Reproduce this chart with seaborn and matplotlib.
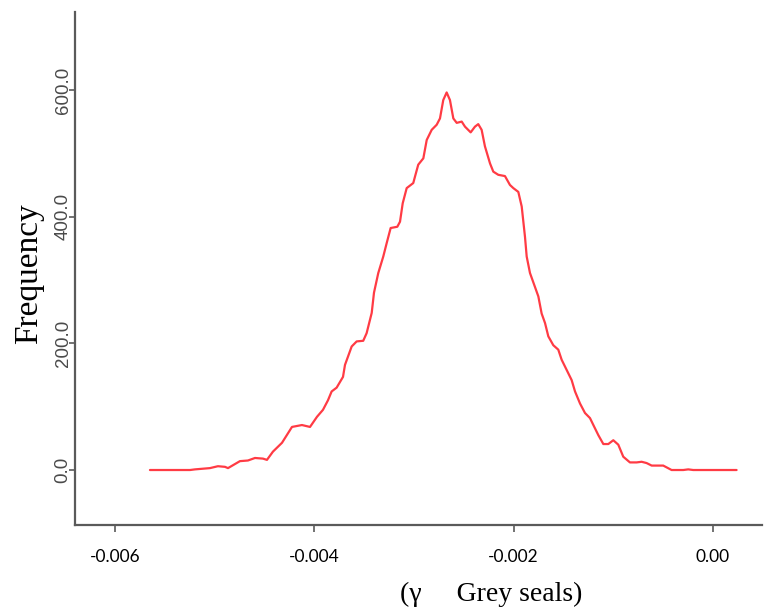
import matplotlib
matplotlib.use("Agg")
import matplotlib.pyplot as plt
import seaborn as sns
import pandas as pd

# Data (gamma for grey seals vs frequency)
gamma = [-0.005649, -0.005247, -0.005197, -0.005047, -0.004967, -0.004896, -0.004866,
         -0.004746, -0.004666, -0.004595, -0.004515, -0.004475, -0.004415, -0.004324,
         -0.004224, -0.004124, -0.004043, -0.003973, -0.003913, -0.003863, -0.003826,
         -0.003776, -0.003712, -0.003692, -0.003625, -0.003575, -0.003509, -0.003475,
         -0.003424, -0.003401, -0.003358, -0.003308, -0.003274, -0.003234, -0.003167,
         -0.003140, -0.003113, -0.003073, -0.003007, -0.002990, -0.002957, -0.002906,
         -0.002872, -0.002822, -0.002772, -0.002739, -0.002706, -0.002672, -0.002639,
         -0.002605, -0.002571, -0.002521, -0.002488, -0.002431, -0.002388, -0.002355,
         -0.002321, -0.002288, -0.002237, -0.002204, -0.002154, -0.002087, -0.002037,
         -0.002003, -0.001953, -0.001919, -0.001886, -0.001869, -0.001836, -0.001786,
         -0.001752, -0.001719, -0.001685, -0.001652, -0.001602, -0.001552, -0.001518,
         -0.001468, -0.001418, -0.001384, -0.001334, -0.001284, -0.001234, -0.001200,
         -0.001150, -0.001100, -0.001050, -0.001000, -0.000950, -0.000900, -0.000833,
         -0.000766, -0.000716, -0.000666, -0.000615, -0.000499, -0.000415, -0.000298,
         -0.000248, -0.000198, 0.000237]
frequency = [0, 0, 1, 3, 6, 5, 3,
             14, 15, 19, 18, 16, 29, 43,
             68, 71, 68, 84, 95, 110, 124,
             130, 147, 166, 195, 203, 204, 216,
             248, 280, 311, 337, 358, 382, 384,
             392, 421, 445, 453, 463, 482, 492,
             521, 537, 545, 555, 584, 596, 584,
             555, 548, 550, 542, 533, 542, 546,
             537, 511, 484, 471, 466, 464, 450,
             445, 439, 416, 368, 337, 311, 289,
             274, 247, 232, 211, 197, 190, 174,
             158, 142, 124, 105, 90, 82, 71,
             55, 41, 41, 47, 40, 21, 12,
             12, 13, 11, 7, 7, 0, 0,
             1, 0, 0]

x_ticks = [-0.006, -0.004, -0.002, 0.0]
x_tick_labels = ["-0.006", "-0.004", "-0.002", "0.00"]
y_ticks = [0, 200, 400, 600]
y_tick_labels = ["0.0", "200.0", "400.0", "600.0"]

df = pd.DataFrame({"gamma": gamma, "frequency": frequency})

sns.set_theme(style="ticks")
plt.rcParams["font.family"] = ["Liberation Sans", "DejaVu Sans"]

fig = plt.figure(figsize=(7.64, 6.15), dpi=100)
ax = fig.add_axes([75 / 764, 90 / 615, 687 / 764, 513 / 615])

sns.lineplot(data=df, x="gamma", y="frequency", ax=ax, color="#FF3B44",
             linewidth=1.6, estimator=None, sort=False)

ax.set_xlim(-0.006401, 0.000492)
ax.set_ylim(-86.8, 723)

sns.despine(ax=ax)
for side in ("left", "bottom"):
    ax.spines[side].set_color("#5a5a5a")
    ax.spines[side].set_linewidth(1.6)

ax.set_xticks(x_ticks)
ax.set_xticklabels(x_tick_labels, fontsize=12.5, family=["Lato", "DejaVu Sans"], color="black")
ax.set_yticks(y_ticks)
ax.set_yticklabels(y_tick_labels, fontsize=13.5, color="#4a4a4a", rotation=90, va="center")
ax.tick_params(axis="both", direction="out", length=5, width=1.2, color="#5a5a5a")
ax.tick_params(axis="x", pad=12)
ax.tick_params(axis="y", length=4, pad=-1.5)

ax.set_ylabel("Frequency", fontsize=24, family=["Liberation Serif", "DejaVu Serif"], color="black")
ax.yaxis.set_label_coords(-0.045, 0.49)
ax.set_xlabel("(γ     Grey seals)", fontsize=20, family=["Liberation Serif", "DejaVu Serif"],
              color="black", ha="left")
ax.xaxis.set_label_coords((400 - 75) / 687, -0.11)

fig.savefig("out.png", dpi=100, facecolor="white")
